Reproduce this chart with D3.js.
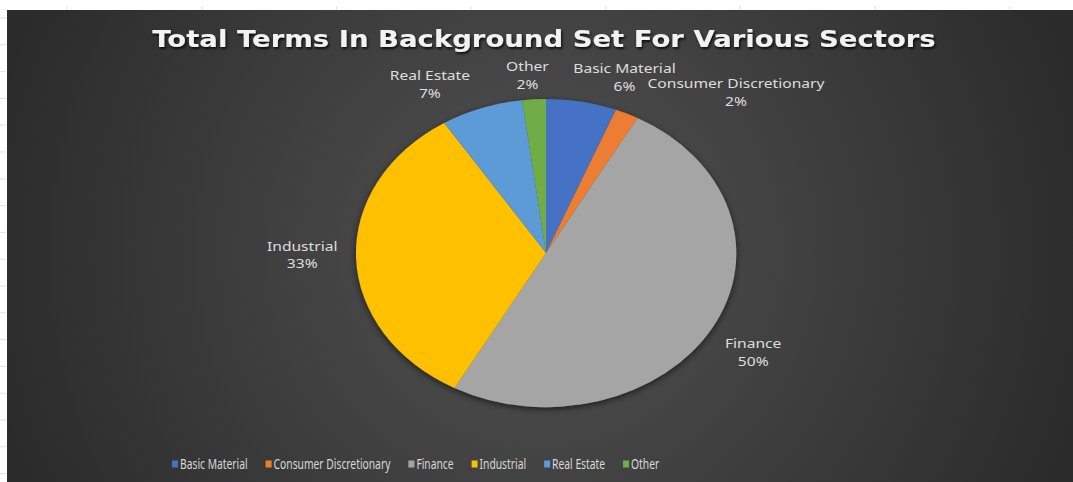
<!DOCTYPE html>
<html>
<head>
<meta charset="utf-8">
<script src="https://cdn.jsdelivr.net/npm/d3@7"></script>
<style>
  html, body { margin: 0; padding: 0; background: #fff; }
  svg { display: block; }
</style>
</head>
<body>
<div id="chart"></div>
<script>
const sectors = ["Basic Material", "Consumer Discretionary", "Finance", "Industrial", "Real Estate", "Other"];
const shares = [6, 2, 50, 33, 7, 2];
const colors = ["#4472C4", "#ED7D31", "#A5A5A5", "#FFC000", "#5B9BD5", "#70AD47"];
const title = "Total Terms In Background Set For Various Sectors";

const width = 1073;
const height = 482;

// excel nudges its "best fit" labels, these mimic it
const labelNudge = [[38, -4], [98, -3], [18, 15], [-28, -4], [-43, -4], [-5, -3]];

const svg = d3.select("#chart")
  .append("svg")
  .attr("width", width)
  .attr("height", height);

const defs = svg.append("defs");

// BACKGROUND
const bg = defs.append("radialGradient")
  .attr("id", "bg")
  .attr("gradientUnits", "userSpaceOnUse")
  .attr("cx", 540).attr("cy", 250).attr("r", 560);
bg.append("stop").attr("offset", "0%").attr("stop-color", "#525252");
bg.append("stop").attr("offset", "100%").attr("stop-color", "#2b2b2b");

const shadow = defs.append("filter")
  .attr("id", "shadow")
  .attr("x", "-20%").attr("y", "-20%").attr("width", "140%").attr("height", "140%");
shadow.append("feDropShadow")
  .attr("dx", 0).attr("dy", 2).attr("stdDeviation", 3)
  .attr("flood-color", "#000").attr("flood-opacity", 0.6);

const titleShadow = defs.append("filter").attr("id", "tshadow");
titleShadow.append("feDropShadow")
  .attr("dx", 1).attr("dy", 2).attr("stdDeviation", 1.2)
  .attr("flood-color", "#000").attr("flood-opacity", 0.8);

svg.append("rect")
  .attr("x", 7).attr("y", 10)
  .attr("width", width - 7).attr("height", height - 10)
  .attr("fill", "url(#bg)");

// faint ruler ticks in the white margin
const leftTicks = d3.range(18, height, 26.8);
svg.selectAll(".lt").data(leftTicks).join("line")
  .attr("x1", 0).attr("x2", 6)
  .attr("y1", d => d).attr("y2", d => d)
  .attr("stroke", "#e0e0e0").attr("stroke-width", 1);
const topTicks = d3.range(67, width, 134.7);
svg.selectAll(".tt").data(topTicks).join("line")
  .attr("x1", d => d).attr("x2", d => d)
  .attr("y1", 6).attr("y2", 10)
  .attr("stroke", "#e0e0e0").attr("stroke-width", 1);

// TITLE (the picture is stretched sideways)
svg.append("g")
  .attr("transform", "translate(544,47) scale(1.17,1)")
  .append("text")
  .attr("text-anchor", "middle")
  .attr("font-family", "DejaVu Sans")
  .attr("font-weight", "bold")
  .attr("font-size", 23.5)
  .attr("fill", "#f2f2f2")
  .attr("filter", "url(#tshadow)")
  .text(title);

// PIE (stretched horizontally, like the picture)
const cx = 546, cy = 253;
const ry = 154, rx = 190;
const sx = rx / ry;

const pie = d3.pie().sort(null).value(d => d);
const arcs = pie(shares);
const arc = d3.arc().innerRadius(0).outerRadius(ry);
const labelArc = d3.arc().innerRadius(175).outerRadius(175);

const pieG = svg.append("g")
  .attr("transform", `translate(${cx},${cy}) scale(${sx},1)`)
  .attr("filter", "url(#shadow)");

pieG.selectAll("path")
  .data(arcs)
  .join("path")
  .attr("d", arc)
  .attr("fill", (d, i) => colors[i]);

// DATA LABELS
const labels = svg.append("g")
  .attr("font-family", "Noto Sans")
  .attr("font-size", 13)
  .attr("fill", "#dedede")
  .attr("text-anchor", "middle");

arcs.forEach((d, i) => {
  const c = labelArc.centroid(d);
  const x = cx + c[0] * sx + labelNudge[i][0];
  const y = cy + c[1] + labelNudge[i][1];
  const t = labels.append("g")
    .attr("transform", `translate(${x},${y}) scale(1.2,1)`)
    .append("text");
  t.append("tspan").attr("x", 0).attr("y", -4).text(sectors[i]);
  t.append("tspan").attr("x", 0).attr("y", 14).text(shares[i] + "%");
});

// LEGEND
const legend = svg.append("g")
  .attr("font-family", "Noto Sans")
  .attr("font-size", 14.5)
  .attr("fill", "#d9d9d9");

const squeeze = 0.71;
let lx = 172;
const ly = 464;
sectors.forEach((s, i) => {
  legend.append("rect")
    .attr("x", lx).attr("y", ly - 3.5)
    .attr("width", 6).attr("height", 7)
    .attr("fill", colors[i]);
  const t = legend.append("g")
    .attr("transform", `translate(${lx + 8},${ly + 5}) scale(${squeeze},1)`)
    .append("text")
    .text(s);
  lx += 8 + t.node().getComputedTextLength() * squeeze + 18;
});
</script>
</body>
</html>
